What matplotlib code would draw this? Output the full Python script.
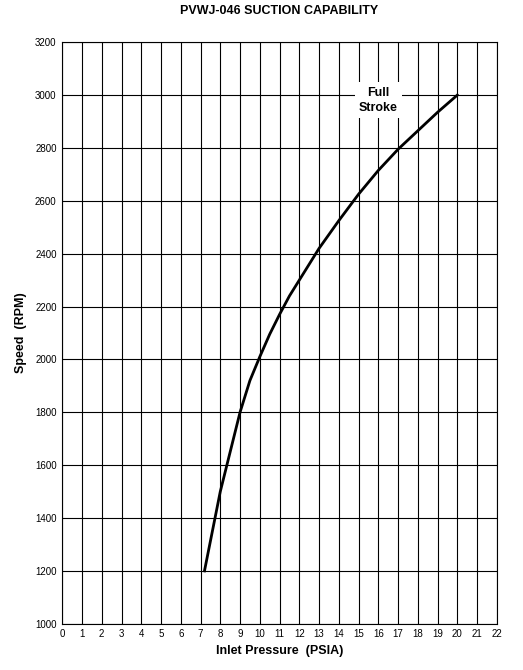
import matplotlib
matplotlib.use("Agg")
import matplotlib.pyplot as plt

plt.rcParams['font.family'] = ['Liberation Sans', 'DejaVu Sans']

pressure = [7.2, 8.0, 8.5, 9.0, 9.5, 10.0, 10.5, 11.0, 11.5, 12.0, 13.0, 14.0, 15.0, 16.0, 17.0, 18.0, 19.0, 20.0]
speed = [1200, 1500, 1650, 1800, 1920, 2010, 2095, 2170, 2240, 2300, 2420, 2525, 2625, 2715, 2795, 2865, 2935, 3000]
xticks = list(range(0, 23))
yticks = list(range(1000, 3201, 200))

fig = plt.figure(figsize=(5.23, 6.70), dpi=100)
ax = fig.add_axes([0.119, 0.069, 0.831, 0.868])
ax.plot(pressure, speed, color='black', lw=2, solid_joinstyle='round')
ax.set_xlim(0, 22)
ax.set_ylim(1000, 3200)
ax.set_xticks(xticks)
ax.set_yticks(yticks)
ax.tick_params(labelsize=7, length=0, pad=4)
ax.grid(True, color='black', lw=0.8)
for s in ax.spines.values():
    s.set_linewidth(0.8)
ax.set_xlabel('Inlet Pressure  (PSIA)', fontsize=9, fontweight='bold', labelpad=4)
ax.set_ylabel('Speed  (RPM)', fontsize=9, fontweight='bold', labelpad=6)
ax.set_title('PVWJ-046 SUCTION CAPABILITY', fontsize=9, fontweight='bold', pad=20)
ax.text(16.0, 2980, 'Full\nStroke', fontsize=9, fontweight='bold', ha='center', va='center',
        linespacing=1.4, bbox=dict(facecolor='white', edgecolor='none', pad=3))
fig.savefig('out.png', dpi=100)
